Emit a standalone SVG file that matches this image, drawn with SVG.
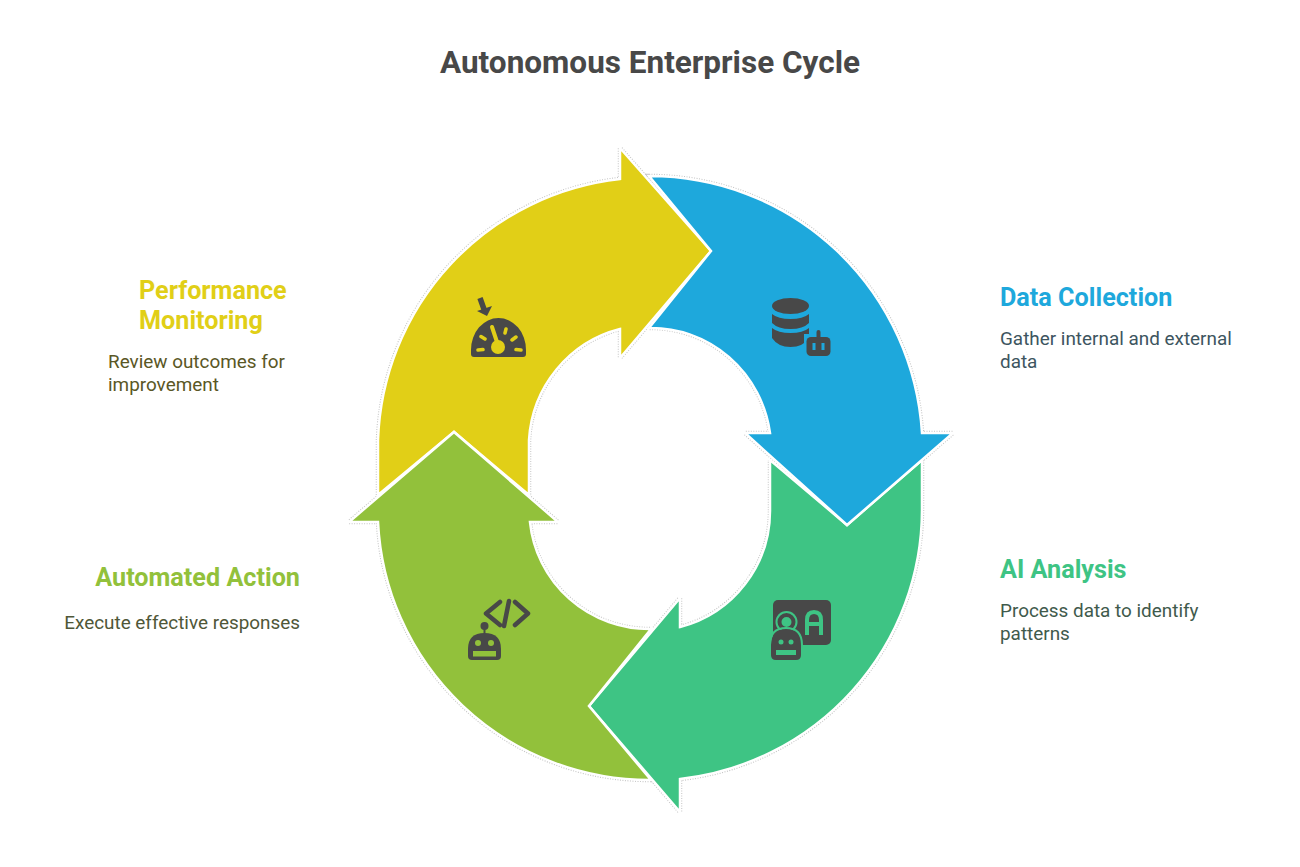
<svg xmlns="http://www.w3.org/2000/svg" width="1300" height="867" viewBox="0 0 1300 867">
<style>
text{font-family:Roboto,"Liberation Sans",sans-serif}
.title{font-size:31.500px;font-weight:700;fill:#484848;text-anchor:middle}
.head{font-size:25.200px;font-weight:700}
.desc{font-size:18.900px;font-weight:400}
.halo{fill:none;stroke:#c4c4c4;stroke-width:4.500;stroke-dasharray:1 1.500;stroke-linejoin:miter}
.arrow{stroke:#fff;stroke-width:2.500;stroke-linejoin:miter}
.ic{fill:#484848}
.icl{fill:none;stroke:#484848;stroke-linecap:round;stroke-linejoin:round}
</style>
<rect width="1300" height="867" fill="#fff"/>
<text class="title" x="650" y="73">Autonomous Enterprise Cycle</text>
<g id="connectors">
<path class="halo" d="M649 176A273 274 0 0 1 922 433H953L847 525L745 433H770A120 122 0 0 0 649 328L711 251Z"/>
<path class="halo" d="M922 460V510A272 271 0 0 1 680 779V812L589 706L680 598V627A120 120 0 0 0 770 510V460"/>
<path class="halo" d="M378 495V440A272 272 0 0 1 620 179V148L711 251L620 358V329A121 122 0 0 0 529 440V495"/>
<path class="halo" d="M651 780A272 271 0 0 1 378 522H349L454 432L558 522H530A120 119 0 0 0 651 629L589 706Z"/>
</g>
<g id="node-ai-analysis">
<path class="arrow" fill="#3EC484" d="M770 460L847 525L922 460V510A272 271 0 0 1 680 779V812L589 706L680 598V627A120 120 0 0 0 770 510Z"/>
<rect class="ic" x="773" y="600" width="58" height="45" rx="5"/>
<path d="M807 635V620Q807 612 814 612Q821 612 821 620V635M807 624H821" fill="none" stroke="#3EC484" stroke-width="4"/>
<circle cx="786.500" cy="622" r="11" fill="#3EC484"/>
<circle cx="786.500" cy="622" r="7" fill="none" stroke="#484848" stroke-width="4"/>
<path d="M771 655V645Q771 629 786 629Q801 629 801 645V655Q801 660 796 660H776Q771 660 771 655Z" class="ic"/>
<path d="M770 645Q770 628 786 628Q802 628 802 645" fill="none" stroke="#3EC484" stroke-width="2"/>
<circle cx="781" cy="642" r="2.500" fill="#3EC484"/><circle cx="791" cy="642" r="2.500" fill="#3EC484"/>
<rect x="776" y="650" width="20" height="5" fill="#3EC484"/>
<text class="head" x="1000" y="578" fill="#3EC484">AI Analysis</text>
<text class="desc" fill="#3f5a4c"><tspan x="1000" y="617">Process data to identify</tspan><tspan x="1000" y="640">patterns</tspan></text>
</g>
<g id="node-performance-monitoring">
<path class="arrow" fill="#E1CF17" d="M378 495V440A272 272 0 0 1 620 179V148L711 251L620 358V329A121 122 0 0 0 529 440V495L454 432Z"/>
<path class="ic" d="M471 354V350A27.500 32 0 0 1 526 350V354Q526 357 523 357H474Q471 357 471 354Z"/>
<circle cx="498" cy="347" r="7" fill="#E1CF17"/>
<path d="M492 327L498 345" stroke="#E1CF17" stroke-width="4" stroke-linecap="round"/>
<g stroke="#E1CF17" stroke-width="3.500" stroke-linecap="round"><path d="M478 350L483 349.500M481 336.500L485 339M506 329L505 333M512 340L516 337M516 349.500L521 350"/></g>
<path d="M480 298L485 312" stroke="#484848" stroke-width="5.500"/>
<path class="ic" d="M477 311L492 306L487 316Z"/>
<text class="head" fill="#E1CF17"><tspan x="139" y="298.500">Performance</tspan><tspan x="139" y="328.500">Monitoring</tspan></text>
<text class="desc" fill="#5a5725"><tspan x="108" y="368">Review outcomes for</tspan><tspan x="108" y="391">improvement</tspan></text>
</g>
<g id="node-automated-action">
<path class="arrow" fill="#92C13B" d="M651 780A272 271 0 0 1 378 522H349L454 432L558 522H530A120 119 0 0 0 651 629L589 706Z"/>
<circle class="ic" cx="484.500" cy="626" r="4"/>
<path d="M484.500 628V636" stroke="#484848" stroke-width="2"/>
<path class="ic" d="M468 656V649Q468 633 484.500 633Q501 633 501 649V656Q501 660 497 660H472Q468 660 468 656Z"/>
<circle cx="478" cy="643" r="3" fill="#92C13B"/><circle cx="491" cy="643" r="3" fill="#92C13B"/>
<rect x="473" y="651" width="23" height="5.500" fill="#92C13B"/>
<path class="icl" stroke-width="4.500" d="M500 602L486 613.500L500 625M509 601L504 626M515 602L528 613.500L515 625"/>
<text class="head" x="300" y="586" text-anchor="end" fill="#92C13B">Automated Action</text>
<text class="desc" x="300" y="629" text-anchor="end" fill="#4f5738">Execute effective responses</text>
</g>
<g id="node-data-collection">
<path class="arrow" fill="#1EA8DC" d="M649 176A273 274 0 0 1 922 433H953L847 525L745 433H770A120 122 0 0 0 649 328L711 251Z"/>
<ellipse class="ic" cx="790.500" cy="306" rx="18.500" ry="8"/>
<path class="ic" d="M772 314Q778 319 790.500 319Q803 319 809 314V323Q803 329 790.500 329Q778 329 772 323Z"/>
<path class="ic" d="M772 328Q778 333 790.500 333Q803 333 809 328V338Q803 347 790.500 347Q778 347 772 338Z"/>
<rect x="804" y="334" width="28" height="24" fill="#1EA8DC"/>
<rect class="ic" x="806.500" y="337" width="24" height="19" rx="4.500"/>
<rect class="ic" x="816.500" y="330" width="4" height="9" rx="2"/>
<rect x="812.500" y="343" width="3" height="7" fill="#1EA8DC"/><rect x="821.500" y="343" width="3" height="7" fill="#1EA8DC"/>
<text class="head" x="1000" y="306" fill="#1EA8DC">Data Collection</text>
<text class="desc" fill="#3d5560"><tspan x="1000" y="345">Gather internal and external</tspan><tspan x="1000" y="368">data</tspan></text>
</g>
</svg>
